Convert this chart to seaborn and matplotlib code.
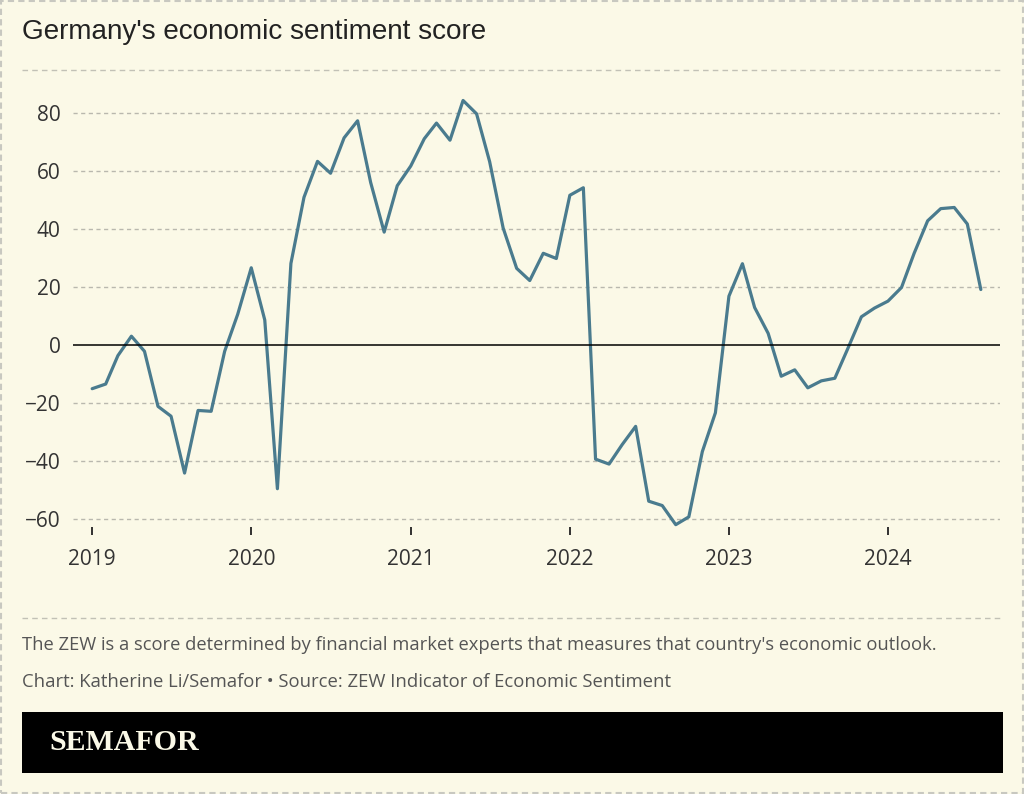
import numpy as np
import pandas as pd
import matplotlib
matplotlib.use("Agg")
import matplotlib.pyplot as plt
import matplotlib.dates as mdates
from matplotlib.patches import Rectangle
import seaborn as sns

# ---- data ----
months = pd.date_range("2019-01-01", "2024-08-01", freq="MS")
scores = [
    -15.0, -13.4, -3.6, 3.1, -2.1, -21.1, -24.5, -44.1, -22.5, -22.8, -2.1, 10.7,
    26.7, 8.7, -49.5, 28.2, 51.0, 63.4, 59.3, 71.5, 77.4, 56.1, 39.0, 55.0,
    61.8, 71.2, 76.6, 70.7, 84.4, 79.8, 63.3, 40.4, 26.5, 22.3, 31.7, 29.9,
    51.7, 54.3, -39.3, -41.0, -34.3, -28.0, -53.8, -55.3, -61.9, -59.2, -36.7, -23.3,
    16.9, 28.1, 13.0, 4.1, -10.7, -8.5, -14.7, -12.3, -11.4, -1.1, 9.8, 12.8,
    15.2, 19.9, 31.7, 42.9, 47.1, 47.5, 41.8, 19.2,
]
y_ticks = [-60, -40, -20, 0, 20, 40, 60, 80]
y_tick_labels = ["\u221260", "\u221240", "\u221220", "0", "20", "40", "60", "80"]
year_ticks = [2019, 2020, 2021, 2022, 2023, 2024]

title = "Germany's economic sentiment score"
note = "The ZEW is a score determined by financial market experts that measures that country's economic outlook."
credit = "Chart: Katherine Li/Semafor \u2022 Source: ZEW Indicator of Economic Sentiment"
brand = "SEMAFOR"

df = pd.DataFrame({"date": months, "score": scores})

# ---- style ----
BG = "#FBF9E7"
LINE = "#4A7B8E"
sns.set_theme(style="white")
plt.rcParams["font.family"] = ["Open Sans", "DejaVu Sans"]

W, H = 1024, 794
fig = plt.figure(figsize=(W / 100, H / 100), dpi=100, facecolor=BG)

def fx(px):
    return px / W

def fy(py):
    return 1 - py / H

# axes placement (pixels)
ax_left, ax_right, ax_top, ax_bottom = 73, 1000, 88, 527
ax = fig.add_axes([fx(ax_left), fy(ax_bottom), fx(ax_right - ax_left), (ax_bottom - ax_top) / H])
ax.set_facecolor(BG)

sns.lineplot(data=df, x="date", y="score", ax=ax, color=LINE, linewidth=2.3, zorder=3)

ax.set_xlim(pd.Timestamp("2019-01-01") - pd.Timedelta(days=44), pd.Timestamp("2024-09-14"))
ax.set_ylim(-62.7, 88.7)

# grid lines
for v in y_ticks:
    if v == 0:
        ax.axhline(0, color="black", linewidth=1.1, zorder=4)
    else:
        ax.axhline(v, color="#B9B8AE", linewidth=1.0, linestyle=(0, (3, 2.5)), zorder=1)

ax.set_yticks(y_ticks)
ax.set_yticklabels(y_tick_labels)
ax.set_xticks([pd.Timestamp(f"{y}-01-01") for y in year_ticks])
ax.set_xticklabels([str(y) for y in year_ticks])
ax.tick_params(axis="y", left=False, length=0, pad=9, labelsize=15, labelcolor="#333333")
ax.tick_params(axis="x", bottom=True, length=6, width=1.3, color="#222222", direction="out", pad=10,
               labelsize=15, labelcolor="#333333")
for s in ax.spines.values():
    s.set_visible(False)
ax.set_xlabel("")
ax.set_ylabel("")

# ---- title and separators ----
fig.text(fx(22), fy(32), title, fontsize=20.1, color="#222222", va="center", ha="left",
         family=["Liberation Sans", "DejaVu Sans"])

fig.add_artist(plt.Line2D([fx(22), fx(1003)], [fy(70), fy(70)], color="#C2C1B6",
                          linewidth=1.0, linestyle=(0, (4, 3))))
fig.add_artist(plt.Line2D([fx(22), fx(1003)], [fy(618), fy(618)], color="#C2C1B6",
                          linewidth=1.0, linestyle=(0, (4, 3))))

fig.text(fx(22), fy(645), note, fontsize=13.25, color="#555555", va="center", ha="left")
fig.text(fx(22), fy(682), credit, fontsize=13.3, color="#555555", va="center", ha="left")

# ---- brand bar ----
fig.add_artist(Rectangle((fx(22), fy(773)), fx(1003 - 22), (773 - 712) / H,
                         transform=fig.transFigure, facecolor="black", edgecolor="none"))
fig.text(fx(49), fy(743), brand, fontsize=21.5, color=BG, va="center", ha="left",
         fontweight="bold", family=["Liberation Serif", "DejaVu Serif"])

# ---- outer dashed border ----
fig.add_artist(Rectangle((fx(1), fy(793)), fx(1022), 792 / H, transform=fig.transFigure,
                         facecolor="none", edgecolor="#C8C8C0", linewidth=1.5,
                         linestyle=(0, (3, 2))))

fig.savefig("out.png", dpi=100, facecolor=BG)
